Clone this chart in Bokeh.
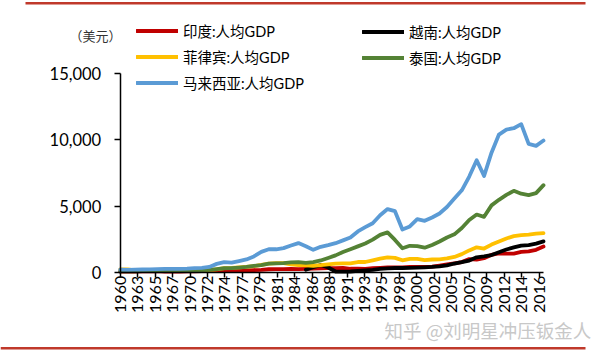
import numpy as np
from bokeh.plotting import figure
from bokeh.models import (Legend, LegendItem, FixedTicker, NumeralTickFormatter,
                          Label, BoxAnnotation, Range1d)
from bokeh.embed import file_html
from bokeh.resources import INLINE

years = list(range(1960, 2018))

malaysia = [235, 225, 234, 249, 264, 280, 288, 293, 299, 320,
            357, 378, 441, 672, 799, 765, 882, 1007, 1234, 1574,
            1775, 1771, 1858, 2049, 2235, 2000, 1728, 1955, 2077, 2228,
            2441, 2653, 3114, 3433, 3732, 4329, 4798, 4637, 3263, 3493,
            4044, 3913, 4165, 4462, 4950, 5587, 6209, 7243, 8475, 7292,
            9041, 10405, 10779, 10882, 11184, 9699, 9555, 9952]

thailand = [101, 107, 115, 119, 128, 138, 159, 167, 177, 192,
            197, 199, 219, 277, 342, 356, 393, 441, 517, 582,
            683, 716, 731, 779, 797, 745, 810, 927, 1119, 1311,
            1564, 1774, 1987, 2209, 2495, 2854, 3043, 2474, 1845, 2033,
            2008, 1891, 2096, 2359, 2660, 2894, 3369, 3974, 4385, 4213,
            5076, 5492, 5861, 6168, 5952, 5840, 5994, 6596]

philippines = [251, 261, 175, 189, 196, 203, 214, 225, 240, 253,
               184, 200, 210, 259, 346, 367, 402, 446, 500, 590,
               686, 726, 735, 630, 577, 565, 532, 576, 636, 697,
               715, 716, 811, 812, 937, 1062, 1160, 1127, 940, 1049,
               1043, 955, 1001, 1013, 1079, 1194, 1404, 1684, 1919, 1826,
               2124, 2358, 2582, 2760, 2843, 2867, 2941, 2982]

india = [82, 85, 90, 101, 116, 119, 90, 96, 99, 107,
         112, 119, 123, 144, 163, 158, 161, 186, 206, 224,
         267, 271, 274, 291, 277, 296, 310, 340, 354, 346,
         368, 303, 317, 301, 346, 374, 400, 415, 413, 442,
         443, 452, 471, 547, 628, 715, 807, 1028, 999, 1102,
         1358, 1458, 1444, 1450, 1574, 1606, 1733, 1981]

vietnam_years = list(range(1985, 2018))
vietnam = [231, 422, 582, 398, 97, 95, 98, 141, 185, 223,
           288, 337, 361, 361, 375, 394, 411, 440, 489, 554,
           699, 797, 919, 1165, 1232, 1334, 1543, 1755, 1908, 2052,
           2085, 2192, 2366]

tick_labels = ["1960", "1963", "1965", "1967", "1970", "1972", "1974", "1977",
               "1979", "1981", "1984", "1986", "1988", "1991", "1993", "1995",
               "1998", "2000", "2002", "2005", "2007", "2009", "2012", "2014",
               "2016"]
y_ticks = [0, 5000, 10000, 15000]

names = ["印度:人均GDP", "越南:人均GDP", "菲律宾:人均GDP", "泰国:人均GDP", "马来西亚:人均GDP"]
colors = ["#C00000", "#000000", "#FFC000", "#548235", "#5B9BD5"]

W, H = 600, 357
# pixel geometry of the plotting area
X0_PX, X1_PX = 119.7, 543.0        # 1960 and 2017
Y0_PX, Y1_PX = 272.3, 73.0         # 0 and 15000
ppx = (X1_PX - X0_PX) / (2017 - 1960)
ppy = (Y0_PX - Y1_PX) / 15000.0
x_start = 1960 - X0_PX / ppx
x_end = 2017 + (W - X1_PX) / ppx
y_end = 15000 + Y1_PX / ppy
y_start = -(H - Y0_PX) / ppy

p = figure(width=W, height=H, output_backend="svg", toolbar_location=None,
           x_range=Range1d(x_start, x_end), y_range=Range1d(y_start, y_end),
           min_border=0, min_border_left=0, min_border_right=0,
           min_border_top=0, min_border_bottom=0)
p.outline_line_color = None
p.grid.grid_line_color = None
p.background_fill_color = "white"
p.border_fill_color = "white"

series = [(years, india), (vietnam_years, vietnam), (years, philippines),
          (years, thailand), (years, malaysia)]
renderers = []
for (xs, ys), c in zip(series, colors):
    r = p.line(xs, ys, line_color=c, line_width=3.8, line_join="round", line_cap="round")
    renderers.append(r)

# axes placed inside the frame
tick_vals = [round(1960 + i * 2.35, 2) for i in range(len(tick_labels))]
p.xaxis.fixed_location = 0
p.xaxis.bounds = (1960, 2017)
p.xaxis.ticker = FixedTicker(ticks=tick_vals)
p.xaxis.major_label_overrides = {v: l for v, l in zip(tick_vals, tick_labels)}
p.xaxis.major_label_orientation = np.pi / 2
p.xaxis.minor_tick_line_color = None
p.xaxis.major_tick_in = 0
p.xaxis.major_tick_out = 5
p.xaxis.major_label_standoff = -2
p.xaxis.major_label_text_font = "Lato"
p.xaxis.major_label_text_font_size = "16px"

p.yaxis.fixed_location = 1960
p.yaxis.bounds = (0, 15000)
p.yaxis.ticker = FixedTicker(ticks=y_ticks)
p.yaxis.formatter = NumeralTickFormatter(format="0,0")
p.yaxis.minor_tick_line_color = None
p.yaxis.major_tick_in = 0
p.yaxis.major_tick_out = 6
p.yaxis.major_label_standoff = 13
p.yaxis.major_label_text_font = "Lato"
p.yaxis.major_label_text_font_size = "16.5px"

for ax in (p.xaxis, p.yaxis):
    ax.axis_line_color = "black"
    ax.axis_line_width = 1.5
    ax.major_tick_line_color = "black"
    ax.major_tick_line_width = 1.5
    ax.major_label_text_color = "black"


def fx(page_x):
    return page_x


def fy(page_y):
    return H - page_y


def legend_box(items, loc):
    lg = Legend(items=items, location=loc, orientation="vertical",
                glyph_width=42, glyph_height=19, label_height=19,
                label_standoff=5, spacing=5, padding=0, margin=0,
                border_line_color=None, background_fill_alpha=0,
                label_text_font="Lato, 'Noto Sans CJK SC'",
                label_text_font_size="14.5px", label_text_color="black")
    p.add_layout(lg, "center")
    return lg

items = [LegendItem(label=n, renderers=[r]) for n, r in zip(names, renderers)]
legend_box([items[0], items[2], items[4]], (fx(136), fy(93)))
legend_box([items[1], items[3]], (fx(362), fy(68)))

p.add_layout(Label(x=fx(121), y=fy(35), x_units="screen", y_units="screen",
                   text="（美元）", text_align="right", text_baseline="middle",
                   text_font="'Noto Sans CJK SC'", text_font_size="13px",
                   text_color="#333333"))

p.add_layout(Label(x=fx(384), y=fy(329), x_units="screen", y_units="screen",
                   text="知乎 @刘明星冲压钣金人", text_align="left", text_baseline="middle",
                   text_font="'Noto Sans CJK SC'", text_font_size="18.5px",
                   text_color="#c8c8c8"))

# red rules top and bottom
red = "#C0392B"
p.add_layout(BoxAnnotation(left=fx(25), right=fx(585), top=fy(1.5), bottom=fy(4),
                           left_units="screen", right_units="screen",
                           top_units="screen", bottom_units="screen",
                           fill_color=red, fill_alpha=1, line_color=None))
p.add_layout(BoxAnnotation(left=0, right=fx(585), top=fy(346.5), bottom=fy(349),
                           left_units="screen", right_units="screen",
                           top_units="screen", bottom_units="screen",
                           fill_color=red, fill_alpha=1, line_color=None))

open("out.html", "w").write(file_html(p, INLINE))
